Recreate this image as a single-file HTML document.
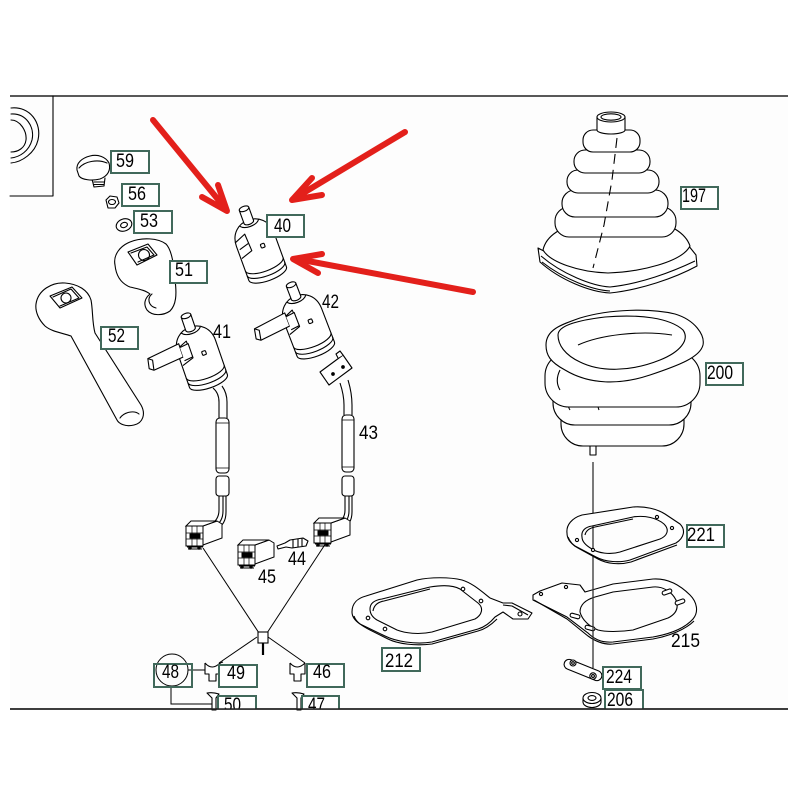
<!DOCTYPE html>
<html><head><meta charset="utf-8">
<style>
html,body{margin:0;padding:0;background:#fff;}
svg{display:block;}
text{font-family:"Liberation Sans",Arial,sans-serif;font-size:19px;fill:#000;}
</style></head><body>
<svg width="800" height="800" viewBox="0 0 800 800" xmlns="http://www.w3.org/2000/svg">
<defs>
<clipPath id="fr"><rect x="0" y="96" width="800" height="613"/></clipPath>
<g id="swb" stroke="#000" stroke-width="1.1" stroke-linejoin="round">
 <path d="M-20 62 L-20 72 A20 7 0 0 0 20 72 L20 62 Z" fill="#fff"/>
 <path d="M-20 67 A20 7 0 0 0 20 67" fill="none"/>
 <path d="M-20 36 C-20 22 -10 15 0 15 C10 15 20 22 20 36 L20 62 A20 7 0 0 1 -20 62 Z" fill="#fff"/>
 <path d="M-5 3 L-5 17 A5 2.5 0 0 0 5 17 L5 3" fill="#fff"/>
 <ellipse cx="0" cy="3" rx="5" ry="2.5" fill="#fff"/>
 <path d="M-10 18 C-6 23 6 23 10 18" fill="none"/>
 <path d="M-20 32 L-8 27 L-7 45 L-19 49" fill="none"/>
 <path d="M-8 37 L-18 40" fill="none"/>
 <rect x="3" y="42" width="4" height="4" rx="1" fill="#fff"/>
</g>
<g id="lev" stroke="#000" stroke-width="1.1" stroke-linejoin="round">
 <path d="M-16 27 L-50 31 L-52 41 L-48 44 L-16 41 Z" fill="#fff"/>
 <path d="M-50 31 L-46 34 L-48 44" fill="none"/>
 <path d="M-16 31 L-7 30 L-7 44 L-16 45" fill="#fff"/>
</g>
<g id="cn" stroke="#000" stroke-width="1" fill="#fff">
 <path d="M17 6 L31 1 L36 4 L36 18 L17 25 Z"/>
 <path d="M0 6 L5 1 L31 1 L17 6 Z"/>
 <rect x="0" y="6" width="17" height="20"/>
 <path d="M6 6 V26 M11 6 V26 M0 13 H17 M0 19 H17" fill="none" stroke-width="0.7"/>
 <rect x="4" y="14" width="10" height="4" fill="#000"/>
 <path d="M1 27 H17 M2 29 H16" fill="none"/>
 <circle cx="4" cy="28" r="1.2" fill="#000"/><circle cx="13" cy="28" r="1.2" fill="#000"/>
</g>
</defs>

<rect x="10" y="96" width="778" height="613" fill="#fdfdfd"/>
<path d="M10 96 H788 M10 709 H788" stroke="#222" stroke-width="1.6"/>

<g fill="none" stroke="#000" stroke-width="1.1" stroke-linejoin="round" stroke-linecap="round">
 <!-- inset -->
 <path d="M53 96 V196 H10"/>
 <path d="M11 108 C30 106 42 123 38 140 C35 153 22 162 11 163"/>
 <path d="M11 114 C26 113 35 127 32 140 C29 151 20 157 11 158"/>
 <path d="M11 120 C20 120 27 131 26 140 C25 148 18 152 11 152"/>

 <!-- 59 -->
 <path d="M92 179 L94 187 L104 186 L105 178" fill="#fff"/>
 <path d="M94 182 H104 M94 184.5 H104"/>
 <path d="M77 170 C76 163 82 158 90 156 C98 154 106 157 109 163 C111 170 108 176 100 179 C92 181 82 180 79 176 Z" fill="#fff"/>
 <path d="M79 168 C85 161 98 159 107 163"/>
 <!-- 56 -->
 <path d="M106 200 L110 196 L117 197 L119 203 L115 208 L108 208 Z" fill="#fff"/>
 <ellipse cx="112" cy="202" rx="3.5" ry="2.5"/>
 <!-- 53 -->
 <ellipse cx="124" cy="225" rx="8" ry="6" transform="rotate(-20 124 225)" fill="#fff"/>
 <ellipse cx="124" cy="225" rx="3.5" ry="2.5" transform="rotate(-20 124 225)"/>

 <!-- 51 -->
 <path d="M115 265 C113 255 120 246 130 242 C142 237 158 238 166 244 C172 250 174 265 175 280 C177 295 176 305 170 311 C163 316 152 316 147 310 C143 304 145 298 150 294 C145 290 138 289 130 287 C120 283 116 275 115 265 Z" fill="#fff"/>
 <path d="M152 294 C147 298 148 306 156 308"/>
 <path d="M128 252 L148 244 L157 255 L137 265 Z"/>
 <path d="M131 253 L147 247 L154 255 L138 262"/>
 <circle cx="144" cy="255" r="5.5"/>

 <!-- 52 -->
 <path d="M36 304 C38 290 52 282 65 283 C78 284 88 290 91 300 C93 310 92 322 95 333 L141 405 C146 414 143 423 134 425 C126 427 119 424 117 420 L71 336 C63 333 52 332 45 326 C39 320 35 312 36 304 Z" fill="#fff"/>
 <path d="M50 296 L72 287 L82 298 L60 308 Z"/>
 <path d="M53 297 L71 289 L79 298 L60 306"/>
 <circle cx="66" cy="298" r="5"/>
 <path d="M120 418 C124 412 134 410 139 414"/>
</g>

<!-- switches -->
<use href="#swb" transform="translate(243 206) rotate(-20)"/>
<g transform="translate(185 313) rotate(-19)"><use href="#swb"/><use href="#lev"/></g>
<g transform="translate(290 282) rotate(-21)"><use href="#swb"/><use href="#lev"/></g>

<g fill="none" stroke="#000" stroke-width="1.1" stroke-linejoin="round">
 <!-- cable 41 -->
 <path d="M213 388 Q219 393 219 402 L219 418"/>
 <path d="M222 386 Q227 393 227 402 L227 418"/>
 <rect x="216" y="418" width="13" height="55" rx="4" fill="#fff"/>
 <path d="M216 423 H229 M216 468 H229" stroke-width="0.7"/>
 <rect x="216" y="476" width="13" height="20" rx="3" fill="#fff"/>
 <path d="M219 496 L219 510 Q219 520 210 525 M223 496 L223 511 Q223 522 214 527 M226 496 L226 512 Q226 525 216 529"/>
 <!-- cable 43 -->
 <path d="M320 372 L343 355 L352 368 L329 385 Z" fill="#fff"/>
 <path d="M343 355 L340 351 L336 354 L338 358" fill="#fff"/>
 <circle cx="333" cy="374" r="1.3" fill="#000"/><circle cx="343" cy="367" r="1.3" fill="#000"/>
 <path d="M340 383 Q344 395 344 405 L344 415"/>
 <path d="M348 380 Q352 393 352 405 L352 415"/>
 <rect x="342" y="415" width="12" height="57" rx="4" fill="#fff"/>
 <path d="M342 420 H354 M342 467 H354" stroke-width="0.7"/>
 <rect x="342" y="476" width="12" height="20" rx="3" fill="#fff"/>
 <path d="M345 496 L345 510 Q345 520 336 523 M349 496 L349 511 Q349 522 339 526 M352 496 L352 512 Q352 525 341 529"/>
 <!-- terminal 44 -->
 <path d="M277 546 L285 543 L290 540 L303 538 L308 541 L306 546 L292 548 L286 547 L278 549 Z" fill="#fff"/>
 <path d="M293 539 V548 M298 538.5 V547 M302 538 V546"/>
</g>
<use href="#cn" transform="translate(186 520)"/>
<use href="#cn" transform="translate(314 517)"/>
<use href="#cn" transform="translate(238 539)"/>

<!-- harness lines -->
<g fill="none" stroke="#000" stroke-width="1">
 <path d="M203 548 L259 633"/>
 <path d="M326 543 L267 633"/>
 <path d="M257 637 L219 663"/>
 <path d="M268 637 L305 663"/>
 <path d="M188 670 H205"/>
 <path d="M171 686 V704 H212"/>
 <circle cx="172" cy="670" r="16"/>
</g>
<rect x="258" y="632" width="10" height="11" fill="#fff" stroke="#000" stroke-width="1.1"/>
<path d="M263 643 V655" stroke="#000" stroke-width="2.2"/>
<g fill="#fff" stroke="#000" stroke-width="1.1" stroke-linejoin="round">
 <path d="M205 663 L205 674 L209 674 L209 681 L216 681 L216 674 L220 674 L220 663"/>
 <path d="M205 663 Q212 671 220 663 L223 662" fill="none"/>
 <path d="M290 663 L290 674 L294 674 L294 681 L301 681 L301 674 L305 674 L305 663"/>
 <path d="M290 663 Q297 671 305 663" fill="none"/>
 <path d="M207 693 Q213 692 219 694 L216 698 L216 710 L212 710 L212 698 Z"/>
 <path d="M292 693 Q298 692 304 694 L301 698 L301 710 L297 710 L297 698 Z"/>
</g>

<!-- boot 197 -->
<g stroke="#000" stroke-width="1.1" fill="#fff" stroke-linejoin="round">
 <path d="M538 248 L540 262 C560 280 590 292 610 293 C640 290 675 278 697 266 L696 255 L688 245 C660 258 630 265 600 264 C575 262 550 255 538 248 Z"/>
 <path d="M541 256 C562 274 592 286 610 287 C640 284 672 272 695 261" fill="none"/>
 <path d="M542 262 C565 280 593 290 610 291" fill="none"/>
 <path d="M543 250 C546 236 562 225 585 223 L648 222 C670 222 686 234 690 246 C682 262 640 272 608 273 C578 272 550 262 543 250 Z"/>
 <rect x="555" y="207" width="121" height="30" rx="14"/>
 <rect x="562" y="190" width="106" height="27" rx="13"/>
 <rect x="567" y="170" width="92" height="23" rx="11"/>
 <rect x="574" y="150" width="76" height="23" rx="11"/>
 <rect x="583" y="130" width="57" height="22" rx="10"/>
 <path d="M597 117 L597 130 A14 4 0 0 0 625 130 L625 117 Z"/>
 <ellipse cx="611" cy="117" rx="14" ry="5"/>
 <ellipse cx="611" cy="117" rx="10" ry="3.2"/>
 <path d="M617 138 L612 180 L604 225 L593 268" fill="none" stroke-dasharray="10 6"/>
</g>

<!-- boot 200 -->
<g stroke="#000" stroke-width="1.1" fill="#fff" stroke-linejoin="round">
 <rect x="571" y="428" width="5" height="9"/>
 <rect x="665" y="428" width="5" height="9"/>
 <rect x="590" y="443" width="6" height="12"/>
 <rect x="561" y="398" width="123" height="48" rx="22"/>
 <rect x="553" y="378" width="138" height="47" rx="22"/>
 <path d="M600 390 C597 398 597 405 599 410 M570 395 C567 402 568 407 570 410" fill="none"/>
 <rect x="545" y="352" width="155" height="55" rx="24"/>
 <path d="M560 370 C556 378 557 385 560 390" fill="none"/>
 <path d="M546 345 C546 330 560 325 580 318 C610 309 650 308 675 314 C695 320 705 335 703 345 C700 357 680 365 650 375 C620 385 590 385 565 370 C550 362 546 355 546 345 Z"/>
 <path d="M558 335 C558 325 580 320 605 317 C640 314 670 318 683 330 C690 340 680 352 660 360 C630 372 600 372 580 362 C565 355 558 345 558 335 Z"/>
 <path d="M578 345 C600 335 640 330 672 335" fill="none"/>
</g>

<!-- gaskets -->
<g stroke="#000" stroke-width="1.1" stroke-linejoin="round" fill-rule="evenodd">
 <path fill="#fff" d="M352 612 C352 603 358 598 366 596 L417 580 C430 577 450 577 462 580 C472 583 480 590 490 598 L503 603 L512 603 L532 613 L528 619 L513 619 L503 612 L495 617 C490 623 485 627 478 629 L432 642 C415 645 395 641 385 636 L360 624 C354 620 352 616 352 612 Z M370 609 C370 603 375 600 382 599 L430 587 C442 585 453 585 460 589 L478 603 C484 608 482 615 475 619 L432 632 C418 635 405 633 397 630 L377 620 C372 617 370 613 370 609 Z"/>
 <path fill="none" d="M354 616 C356 622 362 626 370 630 L388 639 C398 644 415 646 432 644 L478 631 C486 629 492 624 497 619"/>
 <path fill="none" d="M373 611 C374 605 378 602 384 601 L430 589 M503 605 L512 606 L528 615"/>
 <g fill="#fff"><circle cx="368" cy="618" r="1.8"/><circle cx="385" cy="629" r="1.8"/><circle cx="463" cy="589" r="1.8"/><circle cx="481" cy="601" r="1.8"/><circle cx="520" cy="614" r="2"/></g>

 <path fill="#fff" d="M533 595 L540 591 L562 583 L580 585 L585 592 L613 584 L653 579 C668 578 680 585 690 595 C697 602 699 612 693 619 C685 628 670 634 653 637 L613 642 C600 643 593 638 588 633 L567 617 L533 600 Z M580 612 C580 605 585 600 595 597 L613 592 L653 587 C663 586 672 592 676 600 C679 608 676 614 668 618 L633 630 C620 632 605 632 598 630 C590 627 582 620 580 612 Z"/>
 <path fill="none" d="M534 600 L567 619 L588 636 C595 641 603 645 613 644 L653 639 C670 636 686 629 694 621"/>
 <g fill="#fff">
  <rect x="570" y="614" width="10" height="4" rx="2" transform="rotate(15 575 616)"/>
  <rect x="585" y="626" width="10" height="4" rx="2" transform="rotate(15 590 628)"/>
  <rect x="662" y="590" width="10" height="4" rx="2" transform="rotate(-20 667 592)"/>
  <rect x="675" y="600" width="10" height="4" rx="2" transform="rotate(-20 680 602)"/>
  <circle cx="541" cy="594" r="1.6"/><circle cx="566" cy="587" r="1.6"/>
 </g>
</g>
<path d="M593 462 V668" stroke="#333" stroke-width="1.3"/>
<g stroke="#000" stroke-width="1.1" stroke-linejoin="round" fill-rule="evenodd">
 <path fill="#fff" d="M567 533 C566 525 572 518 582 515 L633 507 C645 506 657 509 665 514 L680 524 C686 530 684 538 676 543 L630 560 C620 563 605 562 596 557 L575 546 C569 542 567 538 567 533 Z M582 537 C581 531 585 527 592 526 L633 517 C645 515 657 518 664 524 C670 530 667 536 660 539 L620 552 C610 555 598 553 592 549 C585 545 582 541 582 537 Z"/>
 <path fill="none" d="M568 537 C570 542 574 546 578 548 L598 559 C607 564 620 565 631 562 L677 545"/>
 <path fill="none" d="M585 535 C586 530 590 528 595 527 L633 519"/>
 <g fill="#fff"><circle cx="577" cy="540" r="1.6"/><circle cx="593" cy="550" r="1.6"/><circle cx="657" cy="517" r="1.6"/><circle cx="672" cy="528" r="1.6"/></g>
 <!-- 224 -->
 <rect x="563" y="665" width="40" height="10" rx="5" transform="rotate(22 583 670)" fill="#fff"/>
 <circle cx="573" cy="663" r="3" fill="#fff"/><circle cx="573" cy="663" r="1.3" fill="none"/>
 <circle cx="593" cy="676" r="3.2" fill="#fff"/><circle cx="593" cy="676" r="1.4" fill="none"/>
 <!-- 206 -->
 <path d="M583 698 L583 702 A9 5.5 0 0 0 601 702 L601 698" fill="#fff"/>
 <ellipse cx="592" cy="698" rx="9" ry="5.5" fill="#fff"/>
 <ellipse cx="592" cy="698" rx="4" ry="2.4" fill="none"/>
</g>

<!-- red arrows -->
<g stroke="#e3201b" stroke-width="6" stroke-linecap="round" stroke-linejoin="round" fill="none">
 <path d="M153 120 L225 208"/>
 <path d="M202 197 L227 211 L218 185"/>
 <path d="M405 132 L295 198"/>
 <path d="M312 178 L292 200 L322 195"/>
 <path d="M473 292 L297 259"/>
 <path d="M322 254 L293 259 L318 273"/>
</g>

<!-- labels -->
<g fill="#fff" stroke="#41695b" stroke-width="2">
 <rect x="111" y="151" width="38" height="22"/>
 <rect x="122" y="184" width="37" height="22"/>
 <rect x="134" y="211" width="38" height="22"/>
 <rect x="170" y="261" width="37" height="22"/>
 <rect x="101" y="327" width="37" height="22"/>
 <rect x="267" y="215" width="37" height="22"/>
 <rect x="681" y="187" width="37" height="22"/>
 <rect x="706" y="363" width="37" height="22"/>
 <rect x="687" y="525" width="37" height="22"/>
 <rect x="603" y="667" width="38" height="22"/>
 <rect x="382" y="648" width="38" height="23"/>
 <rect x="154" y="664" width="38" height="23" fill="none"/>
 <rect x="219" y="665" width="38" height="22"/>
 <rect x="307" y="664" width="37" height="23"/>
</g>
<g clip-path="url(#fr)">
 <g fill="#fff" stroke="#41695b" stroke-width="2">
  <rect x="605" y="690" width="38" height="24"/>
  <rect x="218" y="696" width="38" height="20"/>
  <rect x="302" y="696" width="37" height="20"/>
 </g>
 <text x="607" y="706" textLength="26" lengthAdjust="spacingAndGlyphs">206</text>
 <text x="224" y="711" textLength="17" lengthAdjust="spacingAndGlyphs">50</text>
 <text x="308" y="711" textLength="17" lengthAdjust="spacingAndGlyphs">47</text>
</g>
<path d="M10 709 H788" stroke="#222" stroke-width="1.6"/>

<g>
 <text x="116" y="167" textLength="18" lengthAdjust="spacingAndGlyphs">59</text>
 <text x="128" y="200" textLength="18" lengthAdjust="spacingAndGlyphs">56</text>
 <text x="140" y="227" textLength="18" lengthAdjust="spacingAndGlyphs">53</text>
 <text x="175" y="276" textLength="18" lengthAdjust="spacingAndGlyphs">51</text>
 <text x="108" y="342" textLength="17" lengthAdjust="spacingAndGlyphs">52</text>
 <text x="274" y="232" textLength="17" lengthAdjust="spacingAndGlyphs">40</text>
 <text x="682" y="202" textLength="24" lengthAdjust="spacingAndGlyphs">197</text>
 <text x="707" y="379" textLength="26" lengthAdjust="spacingAndGlyphs">200</text>
 <text x="687" y="541" textLength="28" lengthAdjust="spacingAndGlyphs">221</text>
 <text x="606" y="683" textLength="26" lengthAdjust="spacingAndGlyphs">224</text>
 <text x="385" y="667" textLength="28" lengthAdjust="spacingAndGlyphs">212</text>
 <text x="162" y="678" textLength="17" lengthAdjust="spacingAndGlyphs">48</text>
 <text x="227" y="679" textLength="18" lengthAdjust="spacingAndGlyphs">49</text>
 <text x="313" y="678" textLength="18" lengthAdjust="spacingAndGlyphs">46</text>
 <text x="213" y="338" textLength="18" lengthAdjust="spacingAndGlyphs">41</text>
 <text x="322" y="308" textLength="17" lengthAdjust="spacingAndGlyphs">42</text>
 <text x="359" y="439" textLength="19" lengthAdjust="spacingAndGlyphs">43</text>
 <text x="288" y="565" textLength="18" lengthAdjust="spacingAndGlyphs">44</text>
 <text x="258" y="583" textLength="18" lengthAdjust="spacingAndGlyphs">45</text>
 <text x="671" y="647" textLength="29" lengthAdjust="spacingAndGlyphs">215</text>
</g>
</svg>
</body></html>
